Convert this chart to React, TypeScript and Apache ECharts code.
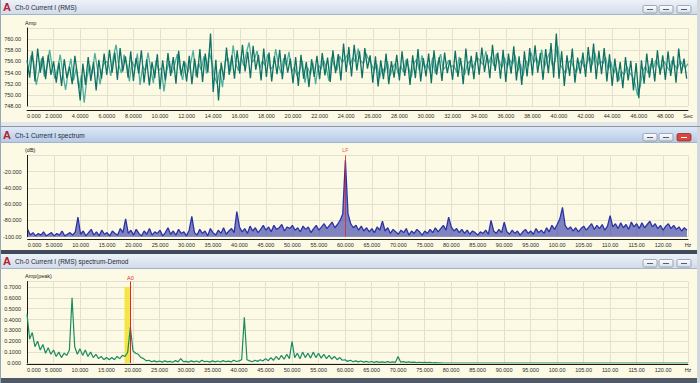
import React, { useEffect, useRef } from 'react';
import * as echarts from 'echarts';

// ---- Data ----
const timeStep = 0.2; // s
const timeMax = 49.7;
// dark teal strokes, t = 0, 0.2, 0.4 ...
const currentRms = [
  756.2, 753.1, 757.8, 752.4, 758.3, 754.0, 756.9, 752.8, 757.2, 753.6,
  756.0, 752.2, 755.8, 751.6, 756.4, 753.0, 755.1, 751.9, 757.0, 753.4,
  749.0, 755.6, 751.8, 756.8, 752.5, 755.9, 750.8, 756.3, 752.9, 757.4,
  753.6, 758.1, 754.0, 757.6, 752.7, 758.4, 754.2, 756.9, 753.1, 757.8,
  752.5, 756.6, 753.8, 758.0, 752.2, 756.4, 751.7, 755.9, 753.0, 757.3,
  751.0, 756.2, 752.6, 757.5, 753.4, 756.8, 752.0, 757.9, 753.5, 756.1,
  752.4, 757.0, 751.9, 756.5, 753.1, 758.2, 752.3, 757.4, 754.0, 761.0,
  750.5, 756.3, 749.0, 755.8, 752.7, 758.5, 753.6, 757.1, 752.9, 758.0,
  753.8, 759.0, 754.2, 757.7, 753.0, 758.8, 754.5, 757.2, 752.6, 758.3,
  753.2, 757.6, 752.4, 756.9, 753.7, 758.1, 752.8, 757.3, 754.0, 756.5,
  752.1, 756.8, 751.6, 757.2, 752.9, 755.9, 751.4, 756.4, 753.2, 757.0,
  752.8, 757.5, 753.5, 756.7, 752.3, 758.0, 753.9, 757.3, 752.6, 759.2,
  754.1, 758.6, 753.3, 759.0, 754.4, 757.8, 753.0, 758.4, 754.7, 757.1,
  752.2, 756.9, 751.5, 756.2, 752.8, 757.4, 751.9, 756.0, 753.1, 757.2,
  752.6, 757.8, 753.4, 756.5, 751.8, 757.1, 753.0, 758.2, 752.4, 756.6,
  753.3, 757.4, 752.1, 758.0, 753.6, 756.8, 752.5, 757.6, 753.9, 756.3,
  752.7, 757.9, 753.2, 756.6, 751.9, 758.3, 753.5, 757.0, 752.8, 757.7,
  753.6, 758.5, 754.1, 757.2, 753.0, 759.0, 754.3, 757.6, 752.9, 758.1,
  752.3, 757.4, 753.8, 758.7, 752.6, 756.9, 751.8, 757.8, 753.3, 758.4,
  753.5, 758.9, 754.0, 757.5, 752.7, 758.2, 753.9, 759.3, 753.1, 761.0,
  752.9, 757.8, 751.6, 757.1, 753.4, 758.3, 752.2, 756.7, 753.8, 757.6,
  753.2, 758.6, 754.0, 759.2, 752.8, 757.9, 753.7, 758.4, 752.4, 757.3,
  751.6, 756.5, 752.3, 755.9, 751.2, 756.8, 752.6, 756.1, 750.8, 755.7,
  749.4, 756.2, 752.0, 757.4, 753.1, 756.6, 752.4, 758.0, 753.6, 757.1,
  752.7, 757.8, 753.4, 756.9, 752.2, 758.3, 753.8, 756.5, 752.9,
];
// lighter teal strokes, t = 0.1, 0.3, 0.5 ...
const currentRmsLight = [
  754.5, 757.1, 755.9, 751.8, 754.2, 756.6, 753.3, 755.0, 758.1, 754.9,
  752.9, 754.7, 757.2, 753.8, 750.9, 754.1, 756.5, 752.6, 754.8, 751.2,
  753.5, 748.6, 752.9, 755.4, 753.7, 757.5, 754.6, 751.9, 755.2, 756.0,
  755.8, 753.4, 756.9, 759.0, 755.3, 753.9, 757.2, 755.5, 752.4, 756.0,
  754.9, 757.4, 751.8, 755.1, 754.3, 757.6, 754.7, 752.1, 756.2, 754.4,
  754.8, 750.6, 754.2, 756.1, 753.9, 755.4, 757.3, 754.6, 752.7, 755.8,
  754.1, 755.6, 758.0, 753.3, 755.7, 754.4, 756.9, 753.8, 757.6, 755.9,
  753.2, 752.0, 754.6, 751.4, 755.9, 756.7, 754.2, 758.9, 755.6, 754.3,
  756.8, 755.2, 757.6, 759.4, 755.8, 756.4, 757.9, 754.8, 756.1, 755.3,
  757.3, 754.6, 755.1, 758.2, 755.4, 753.9, 756.6, 755.2, 757.7, 754.1,
  755.0, 753.4, 754.3, 756.1, 752.2, 754.9, 753.6, 755.8, 751.9, 755.4,
  754.6, 756.2, 754.9, 752.5, 756.8, 755.2, 754.4, 757.0, 755.8, 756.5,
  757.2, 755.3, 756.7, 755.9, 758.3, 756.1, 755.6, 757.4, 756.3, 755.5,
  754.3, 755.6, 752.9, 754.8, 754.1, 756.0, 753.4, 754.9, 755.7, 753.8,
  755.2, 754.1, 756.3, 754.9, 753.2, 755.6, 756.4, 754.3, 757.1, 754.8,
  755.6, 754.2, 756.7, 753.8, 755.9, 757.3, 754.5, 755.1, 756.2, 755.0,
  755.3, 754.0, 756.8, 755.2, 753.6, 755.4, 756.1, 754.7, 755.9, 756.6,
  756.0, 755.4, 757.8, 755.6, 756.9, 755.2, 757.4, 756.1, 754.8, 756.7,
  754.9, 756.3, 755.5, 757.1, 754.2, 755.6, 753.4, 756.2, 755.1, 757.6,
  755.8, 756.7, 755.3, 758.1, 754.9, 756.4, 757.6, 755.2, 756.0, 758.8,
  755.4, 754.6, 753.8, 755.7, 756.2, 754.9, 754.0, 755.4, 756.3, 754.9,
  755.7, 756.9, 755.4, 757.6, 755.2, 756.1, 755.6, 756.8, 754.5, 755.9,
  753.8, 754.9, 752.5, 754.2, 753.6, 755.1, 754.0, 753.4, 752.2, 749.9,
  751.5, 754.3, 755.1, 753.9, 755.6, 754.8, 756.3, 755.0, 754.6, 756.0,
  755.1, 754.4, 756.2, 755.3, 754.6, 756.1, 755.4, 754.9, 755.6,
];

const freqStep = 0.5; // Hz
const freqMax = 124.7;
const spectrumDb = [
  -91, -98, -95, -99, -96, -98, -94, -99, -97, -95,
  -99, -96, -98, -93, -99, -97, -95, -98, -94, -76,
  -97, -93, -99, -95, -91, -98, -94, -99, -92, -97,
  -95, -99, -93, -96, -98, -90, -95, -78, -96, -92,
  -98, -91, -96, -99, -93, -97, -90, -98, -94, -96,
  -92, -99, -95, -89, -97, -93, -98, -91, -96, -94,
  -99, -92, -75, -95, -98, -91, -96, -93, -99, -90,
  -95, -98, -92, -96, -89, -97, -93, -90, -95, -69,
  -88, -94, -90, -96, -87, -93, -89, -95, -91, -86,
  -92, -88, -94, -86, -91, -89, -85, -93, -88, -90,
  -86, -92, -89, -94, -87, -91, -88, -95, -90, -86,
  -92, -88, -84, -90, -86, -82, -89, -85, -80, -72,
  -6, -72, -84, -89, -86, -92, -87, -93, -89, -94,
  -90, -95, -88, -92, -81, -93, -89, -96, -91, -94,
  -97, -92, -95, -90, -98, -93, -96, -91, -94, -98,
  -93, -96, -91, -95, -89, -94, -90, -86, -92, -76,
  -88, -93, -90, -95, -91, -96, -92, -97, -93, -95,
  -98, -94, -96, -92, -97, -80, -93, -96, -91, -95,
  -82, -94, -97, -92, -96, -93, -98, -94, -91, -96,
  -93, -97, -90, -95, -92, -96, -89, -94, -86, -91,
  -85, -78, -64, -86, -91, -88, -93, -89, -94, -90,
  -87, -92, -88, -84, -91, -86, -90, -85, -92, -87,
  -74, -88, -84, -90, -83, -89, -85, -91, -82, -88,
  -84, -90, -83, -89, -85, -81, -88, -84, -90, -86,
  -92, -87, -84, -90, -86, -91, -88, -93, -89, -92,
];

const demodAmp = [
  0.45, 0.22, 0.28, 0.15, 0.2, 0.12, 0.17, 0.09, 0.14, 0.08,
  0.12, 0.06, 0.1, 0.05, 0.09, 0.07, 0.12, 0.6, 0.15, 0.08,
  0.13, 0.07, 0.12, 0.06, 0.1, 0.05, 0.08, 0.04, 0.06, 0.03,
  0.05, 0.03, 0.05, 0.03, 0.06, 0.04, 0.07, 0.06, 0.1, 0.33,
  0.11, 0.09, 0.08, 0.05, 0.04, 0.02, 0.025, 0.012, 0.02, 0.01,
  0.018, 0.008, 0.02, 0.01, 0.015, 0.007, 0.022, 0.01, 0.04, 0.012,
  0.015, 0.008, 0.02, 0.01, 0.018, 0.007, 0.025, 0.012, 0.016, 0.008,
  0.02, 0.01, 0.018, 0.009, 0.022, 0.012, 0.017, 0.01, 0.025, 0.014,
  0.02, 0.03, 0.42, 0.03, 0.02, 0.012, 0.025, 0.015, 0.03, 0.018,
  0.04, 0.02, 0.05, 0.025, 0.06, 0.03, 0.07, 0.035, 0.08, 0.04,
  0.2, 0.05, 0.09, 0.04, 0.1, 0.05, 0.09, 0.045, 0.1, 0.05,
  0.09, 0.045, 0.08, 0.04, 0.07, 0.035, 0.06, 0.03, 0.05, 0.025,
  0.03, 0.015, 0.025, 0.012, 0.02, 0.01, 0.018, 0.008, 0.015, 0.007,
  0.014, 0.006, 0.012, 0.006, 0.011, 0.005, 0.012, 0.006, 0.01, 0.005,
  0.06, 0.008, 0.012, 0.006, 0.01, 0.005, 0.008, 0.004, 0.007, 0.003,
  0.006, 0.003, 0.005, 0.002, 0.004, 0.001, 0.002, 0, 0, 0,
  0,
];

const panelTitles = [
  'Ch-0 Current I (RMS)',
  'Ch-1 Current I spectrum',
  'Ch-0 Current I (RMS) spectrum-Demod',
];
const yAxisNames = ['Amp', '(dB)', 'Amp(peak)'];
const lfCursorHz = 60;
const a0CursorHz = 19.5;
const a0BandHz = [18.4, 19.4];

const FONT = 'Liberation Sans';

const fmt5 = (v: number) => {
  if (Math.abs(v) < 1e-9) return '0.000';
  const a = Math.abs(v);
  const d = a < 10 ? 4 : a < 100 ? 3 : 2;
  return v.toFixed(d);
};

const near = (a: number, b: number) => Math.abs(a - b) < 1e-6;

export default function App() {
  const ref = useRef<HTMLDivElement>(null);

  useEffect(() => {
    if (!ref.current) return;
    const chart = echarts.init(ref.current, undefined, { renderer: 'svg' });

    const barGrad = (active: boolean) =>
      new echarts.graphic.LinearGradient(0, 0, 0, 1, active
        ? [{ offset: 0, color: '#dbe7f6' }, { offset: 1, color: '#b4c9e6' }]
        : [{ offset: 0, color: '#eef2f8' }, { offset: 1, color: '#cfdae9' }]);
    const btnGrad = () =>
      new echarts.graphic.LinearGradient(0, 0, 0, 1, [
        { offset: 0, color: '#ffffff' },
        { offset: 1, color: '#d5dde8' },
      ]);

    const barTops = [0, 128, 254];
    const graphics: any[] = [];
    graphics.push({ type: 'rect', shape: { x: 0, y: 122, width: 700, height: 6 }, style: { fill: '#e3e6eb' }, z: 10 });
    graphics.push({ type: 'line', shape: { x1: 0, y1: 126.5, x2: 700, y2: 126.5 }, style: { stroke: '#8796aa', lineWidth: 1 }, z: 11 });
    graphics.push({ type: 'rect', shape: { x: 0, y: 250, width: 700, height: 4 }, style: { fill: '#3f4a5a' }, z: 10 });
    graphics.push({ type: 'rect', shape: { x: 0, y: 378, width: 700, height: 5 }, style: { fill: '#4f5968' }, z: 10 });
    graphics.push({ type: 'rect', shape: { x: 697, y: 0, width: 3, height: 383 }, style: { fill: '#d3d8df' }, z: 10 });
    graphics.push({ type: 'line', shape: { x1: 0.5, y1: 0, x2: 0.5, y2: 383 }, style: { stroke: '#98a6b9', lineWidth: 1 }, z: 11 });

    barTops.forEach((y0, i) => {
      const active = i === 1;
      graphics.push({ type: 'rect', shape: { x: 0, y: y0, width: 697, height: 15 }, style: { fill: barGrad(active) }, z: 10 });
      graphics.push({ type: 'line', shape: { x1: 0, y1: y0 + 14.5, x2: 697, y2: y0 + 14.5 }, style: { stroke: '#a3b3c8', lineWidth: 1 }, z: 11 });
      graphics.push({
        type: 'text', x: 3, y: y0 + 1.5, z: 12,
        style: { text: 'A', fill: '#b5202c', font: `bold 11px ${FONT}` },
      });
      graphics.push({
        type: 'text', x: 15, y: y0 + 7.5, z: 12,
        style: { text: panelTitles[i], fill: '#1e2836', font: `6.5px ${FONT}`, verticalAlign: 'middle' },
      });
      const bx = [643, 659, 677];
      bx.forEach((x, k) => {
        const red = active && k === 2;
        graphics.push({
          type: 'rect', z: 12,
          shape: { x, y: y0 + 5.5, width: 14, height: 7.5, r: 1.5 },
          style: { fill: red ? '#d9463f' : btnGrad(), stroke: red ? '#9b2a25' : '#8795a8', lineWidth: 0.8 },
        });
        graphics.push({
          type: 'line', z: 13,
          shape: { x1: x + 4, y1: y0 + 9.5, x2: x + 10, y2: y0 + 9.5 },
          style: { stroke: red ? '#ffffff' : '#55606e', lineWidth: 1 },
        });
      });
    });

    const nameYs = [23, 149.5, 275.5];
    yAxisNames.forEach((n, i) => {
      graphics.push({
        type: 'text', x: 25, y: nameYs[i], z: 12,
        style: { text: n, fill: '#222', font: `5.5px ${FONT}`, verticalAlign: 'middle' },
      });
    });

    const gridLeft = 27;
    const gridWidth = 661;
    const grids = [
      { left: gridLeft, top: 28, width: gridWidth, height: 78 },
      { left: gridLeft, top: 155.4, width: gridWidth, height: 81.3 },
      { left: gridLeft, top: 281.5, width: gridWidth, height: 81.5 },
    ];

    const splitLine = { show: true, lineStyle: { color: '#e3e1cc', width: 1 } };
    const axisLine = { show: true, onZero: false, lineStyle: { color: '#1a1a1a', width: 1 } };
    const labelBase = { fontSize: 5.5, color: '#2a2a2a', fontFamily: FONT };

    const xAxis = [
      {
        type: 'value', gridIndex: 0, min: 0, max: timeMax, interval: 2, offset: 4,
        axisLine, axisTick: { show: false }, splitLine,
        axisLabel: { ...labelBase, margin: 3, showMaxLabel: true, alignMinLabel: 'left',
          formatter: (v: number) => (near(v, timeMax) ? 'Sec' : fmt5(v)) },
      },
      {
        type: 'value', gridIndex: 1, min: 0, max: freqMax, interval: 5, offset: 3,
        axisLine, axisTick: { show: false }, splitLine,
        axisLabel: { ...labelBase, margin: 2, showMaxLabel: true, alignMinLabel: 'left',
          formatter: (v: number) => (near(v, freqMax) ? 'Hz' : fmt5(v)) },
      },
      {
        type: 'value', gridIndex: 2, min: 0, max: freqMax, interval: 5, offset: 1.5,
        axisLine, axisTick: { show: false }, splitLine,
        axisLabel: { ...labelBase, margin: 2.5, showMaxLabel: true, alignMinLabel: 'left',
          formatter: (v: number) => (near(v, freqMax) ? 'Hz' : fmt5(v)) },
      },
    ];

    const yAxis = [
      {
        type: 'value', gridIndex: 0, min: 748, max: 762, interval: 2,
        axisLine, axisTick: { show: false }, splitLine,
        axisLabel: { ...labelBase, margin: 6, formatter: (v: number) => (near(v, 762) ? '' : fmt5(v)) },
      },
      {
        type: 'value', gridIndex: 1, min: -100, max: 0, interval: 20,
        axisLine, axisTick: { show: false }, splitLine,
        axisLabel: { ...labelBase, margin: 6, formatter: (v: number) => (near(v, 0) ? '' : fmt5(v)) },
      },
      {
        type: 'value', gridIndex: 2, min: 0, max: 0.75, interval: 0.1,
        axisLine, axisTick: { show: false }, splitLine,
        axisLabel: { ...labelBase, margin: 6, formatter: (v: number) => (near(v, 0.75) ? '' : fmt5(v)) },
      },
    ];

    const demodData: number[][] = demodAmp.map((v, i) => [i * freqStep, v]);
    demodData.push([freqMax, 0]);

    const option: any = {
      animation: false,
      backgroundColor: '#fcfae5',
      textStyle: { fontFamily: FONT },
      grid: grids,
      xAxis,
      yAxis,
      graphic: graphics,
      series: [
        {
          type: 'line', xAxisIndex: 0, yAxisIndex: 0, symbol: 'none',
          data: currentRmsLight.map((v, i) => [0.1 + i * timeStep, v]),
          lineStyle: { color: '#4fae9f', width: 1.3 },
          z: 2,
        },
        {
          type: 'line', xAxisIndex: 0, yAxisIndex: 0, symbol: 'none',
          data: currentRms.map((v, i) => [i * timeStep, v]),
          lineStyle: { color: '#0f7165', width: 1.3 },
          z: 3,
        },
        {
          type: 'line', xAxisIndex: 1, yAxisIndex: 1, symbol: 'none',
          data: spectrumDb.map((v, i) => [i * freqStep, v]),
          lineStyle: { color: '#2b33a6', width: 1.3 },
          areaStyle: { origin: 'start', color: '#2b33a6', opacity: 0.6 },
          z: 3,
        },
        {
          type: 'line', xAxisIndex: 1, yAxisIndex: 1, symbol: 'none',
          data: [], z: 4,
          markLine: {
            silent: true, symbol: 'none', animation: false,
            lineStyle: { color: '#e5222a', width: 1, type: 'solid', opacity: 0.8 },
            label: { show: true, position: 'end', formatter: 'LF', color: '#e5222a', fontSize: 5.5, distance: 2 },
            data: [{ xAxis: lfCursorHz }],
          },
        },
        {
          type: 'line', xAxisIndex: 2, yAxisIndex: 2, symbol: 'none',
          data: [], z: 1,
          markArea: {
            silent: true,
            itemStyle: { color: '#f3e43a', opacity: 0.95 },
            data: [[{ xAxis: a0BandHz[0], yAxis: 0 }, { xAxis: a0BandHz[1], yAxis: 0.7 }]],
          },
          markLine: {
            silent: true, symbol: 'none', animation: false,
            lineStyle: { color: '#e5222a', width: 1, type: 'solid' },
            label: { show: true, position: 'end', formatter: 'A0', color: '#e5222a', fontSize: 5.5, distance: 1 },
            data: [{ xAxis: a0CursorHz }],
          },
        },
        {
          type: 'line', xAxisIndex: 2, yAxisIndex: 2, symbol: 'none',
          data: demodData,
          lineStyle: { color: '#1b8a60', width: 1.2 },
          z: 3,
        },
      ],
    };

    chart.setOption(option);
    return () => chart.dispose();
  }, []);

  return (
    <div
      ref={ref}
      style={{ position: 'fixed', left: 0, top: 0, width: 700, height: 383 }}
    />
  );
}
